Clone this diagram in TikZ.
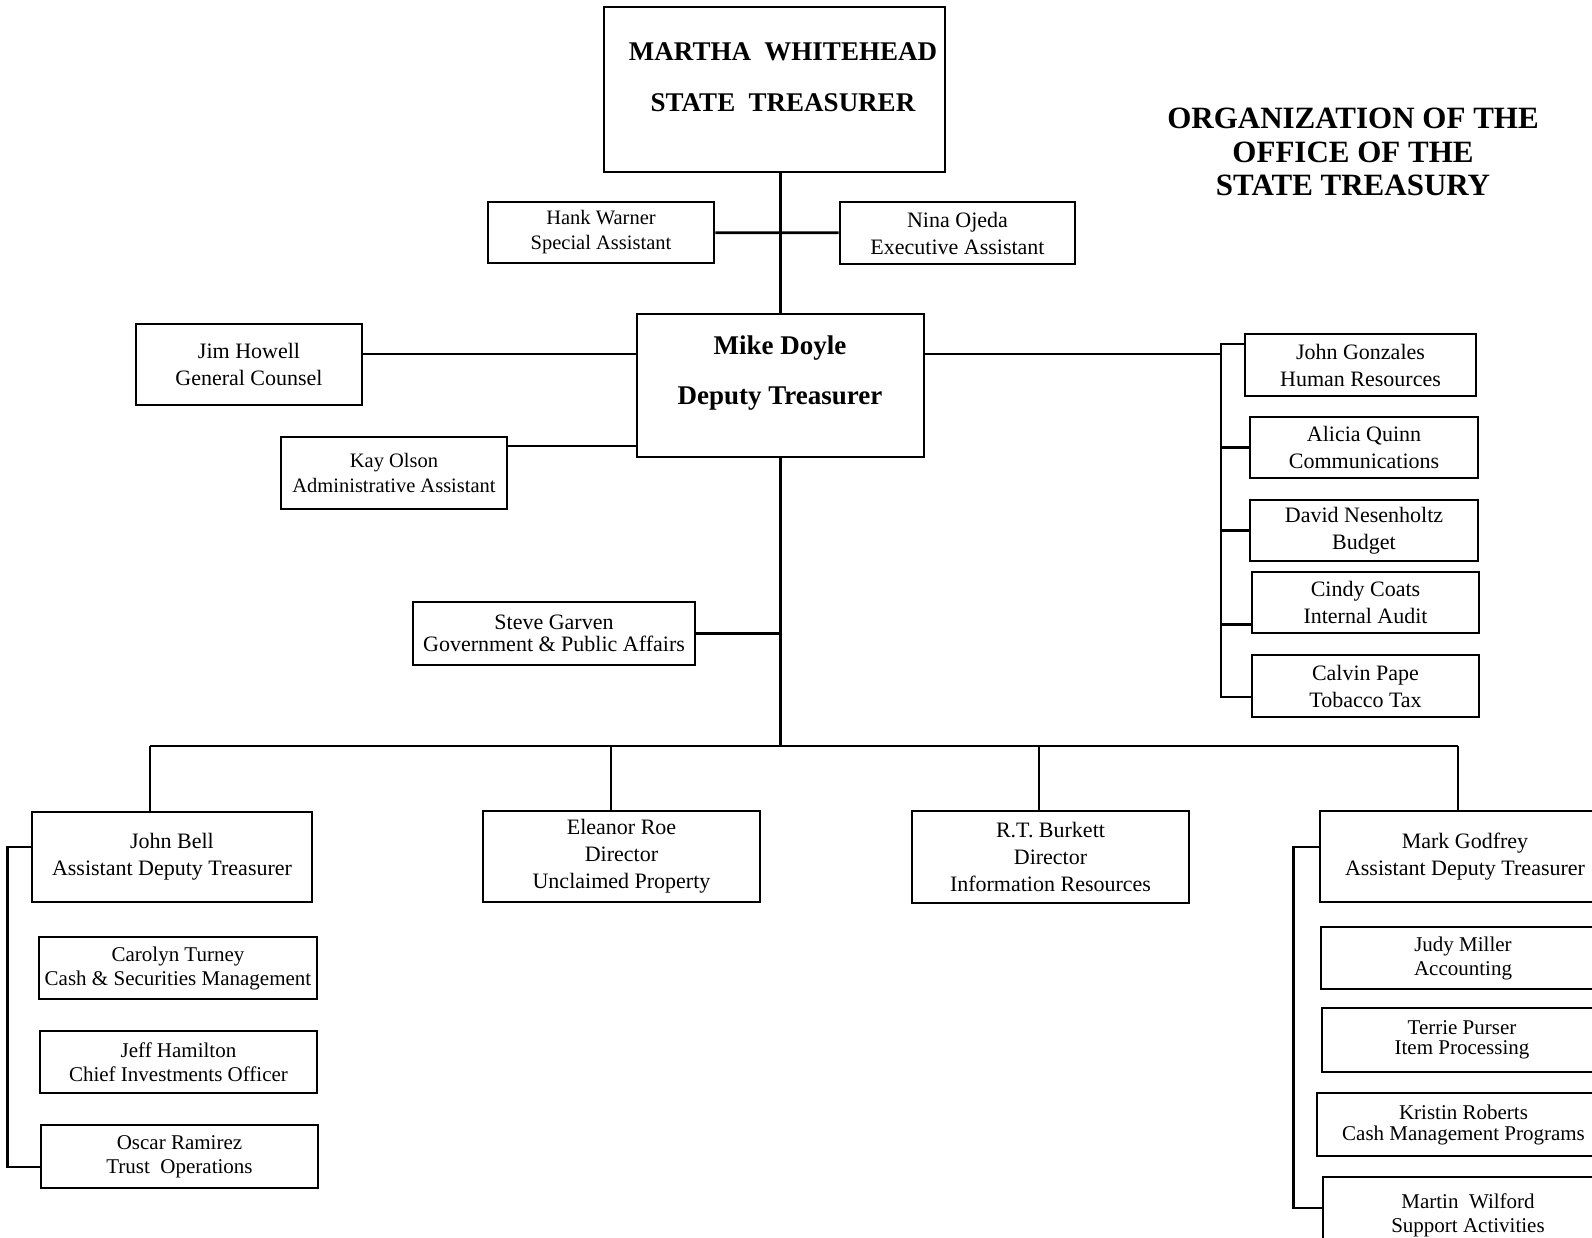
\documentclass[tikz,border=0pt]{standalone}
\usepackage{fontspec}
\setmainfont{Liberation Serif}
\begin{document}
\begin{tikzpicture}[x=1pt,y=-1pt,
    unit/.style={draw, line width=2.7pt, inner sep=0pt, align=center,
      font=\fontsize{22}{27}\selectfont},
    small/.style={unit, font=\fontsize{20.5}{25}\selectfont},
    sub/.style={unit, font=\fontsize{21}{24}\selectfont},
    boss/.style={draw, line width=2.7pt, inner sep=0pt},
    bosstext/.style={align=center, inner sep=0pt, font=\bfseries\fontsize{27}{50}\selectfont},
    link/.style={line width=2.7pt}]
    \useasboundingbox (0,0) rectangle (1592,1237);
    \clip (0,0) rectangle (1592,1237);

    % treasurer and title
    \node[boss, minimum width=341, minimum height=165] (martha) at (774.5,89.5) {};
    \node[bosstext, font=\bfseries\fontsize{27}{51}\selectfont] (marthatext) at (783,77.5)
        {MARTHA\ \ WHITEHEAD\\STATE\ \ TREASURER};
    \node[bosstext, font=\bfseries\fontsize{31}{33.5}\selectfont] (title) at (1353,152)
        {ORGANIZATION OF THE\\OFFICE OF THE\\STATE TREASURY};

    % staff
    \node[small, minimum width=226, minimum height=61] (hank) at (601,232.5) {Hank Warner\\Special Assistant};
    \node[unit, minimum width=235, minimum height=62] (nina) at (957.5,233) {Nina Ojeda\\Executive Assistant};
    \node[unit, minimum width=226, minimum height=81] (jim) at (249,364.5) {Jim Howell\\General Counsel};
    \node[small, minimum width=226, minimum height=72] (kay) at (394,473) {Kay Olson\\Administrative Assistant};
    \node[boss, minimum width=287, minimum height=143] (mike) at (780.5,385.5) {};
    \node[bosstext] (miketext) at (780,373) {Mike Doyle\\Deputy Treasurer};
    \node[unit, minimum width=282, minimum height=63, font=\fontsize{22}{22}\selectfont] (steve) at (554,633.5)
        {Steve Garven\\Government \& Public Affairs};

    % right column
    \node[unit, minimum width=231, minimum height=62] (hr) at (1360.5,365) {John Gonzales\\Human Resources};
    \node[unit, minimum width=228, minimum height=61] (comm) at (1364,447.5) {Alicia Quinn\\Communications};
    \node[unit, minimum width=228, minimum height=61] (budget) at (1364,530.5) {David Nesenholtz\\Budget};
    \node[unit, minimum width=227, minimum height=61] (audit) at (1365.5,602.5) {Cindy Coats\\Internal Audit};
    \node[unit, minimum width=227, minimum height=62] (tax) at (1365.5,686) {Calvin Pape\\Tobacco Tax};

    % divisions
    \node[unit, minimum width=280, minimum height=90] (bell) at (172,857) {John Bell\\Assistant Deputy Treasurer};
    \node[unit, minimum width=277, minimum height=91] (roe) at (621.5,856.5) {Eleanor Roe\\Director\\Unclaimed Property};
    \node[unit, minimum width=277, minimum height=92] (burkett) at (1050.5,857) {R.T. Burkett\\Director\\Information Resources};
    \node[unit, minimum width=290, minimum height=91] (godfrey) at (1465,856.5) {Mark Godfrey\\Assistant Deputy Treasurer};

    \node[sub, minimum width=278, minimum height=62] (turney) at (178,968) {Carolyn Turney\\Cash \& Securities Management};
    \node[sub, minimum width=277, minimum height=62] (hamilton) at (178.5,1062) {Jeff Hamilton\\Chief Investments Officer};
    \node[sub, minimum width=277, minimum height=63] (ramirez) at (179.5,1156.5) {Oscar Ramirez\\Trust\ \ Operations};

    \node[sub, minimum width=284, minimum height=62] (miller) at (1463,958) {Judy Miller\\Accounting};
    \node[sub, minimum width=280, minimum height=64, font=\fontsize{21}{20}\selectfont] (purser) at (1462,1040) {Terrie Purser\\Item Processing};
    \node[sub, minimum width=293, minimum height=63, font=\fontsize{21}{21}\selectfont] (roberts) at (1463.5,1124.5) {Kristin Roberts\\Cash Management Programs};
    \node[sub, minimum width=290, minimum height=76] (wilford) at (1468,1215) {Martin\ \ Wilford\\Support Activities};

    % connectors
    \draw[link] (mike.north) -- (mike.north |- martha.south);
    \draw[link] (hank) -- (nina);
    \coordinate (mikeJ) at ([yshift=31.5pt]mike.west);
    \coordinate (mikeK) at ([yshift=-60.5pt]mike.west);
    \draw[link] (mikeJ) -- (mikeJ -| jim.east);
    \draw[link] (mikeK) -- (mikeK -| kay.east);

    \coordinate (mikeR) at ([yshift=31.5pt]mike.east);
    \coordinate (rbus) at (1221,0);
    \coordinate (hrL) at ([yshift=21pt]hr.west);
    \coordinate (taxL) at ([yshift=-11pt]tax.west);
    \draw[link] (mikeR) -- (mikeR -| rbus);
    \draw[link] (hrL) -- (hrL -| rbus) -- (taxL -| rbus) -- (taxL);
    \coordinate (commL) at (comm.west);
    \coordinate (budgetL) at (budget.west);
    \coordinate (auditL) at ([yshift=-22pt]audit.west);
    \foreach \n in {commL, budgetL, auditL}
        \draw[link] (\n) -- (\n -| rbus);

    \coordinate (bus) at (0,746);
    \draw[link] (mike.south) -- (mike.south |- bus);
    \draw[link] (steve.east) -- (steve.east -| mike.south);
    \coordinate (bellT) at ([xshift=-22pt]bell.north);
    \coordinate (roeT) at ([xshift=-10.5pt]roe.north);
    \coordinate (burkettT) at ([xshift=-11.5pt]burkett.north);
    \coordinate (godfreyT) at ([xshift=-7pt]godfrey.north);
    \draw[link] (bellT |- bus) -- (godfreyT |- bus);
    \foreach \n in {bellT, roeT, burkettT, godfreyT}
        \draw[link] (\n) -- (\n |- bus);

    \coordinate (bellL) at ([yshift=10pt]bell.west);
    \coordinate (ramirezL) at ([yshift=-10.5pt]ramirez.west);
    \draw[link] (bellL) -- ++(-23,0) |- (ramirezL);
    \coordinate (godfreyL) at ([yshift=9.5pt]godfrey.west);
    \coordinate (wilfordL) at ([yshift=7pt]wilford.west);
    \draw[link] (godfreyL) -- ++(-25,0) |- (wilfordL);
\end{tikzpicture}
\end{document}
